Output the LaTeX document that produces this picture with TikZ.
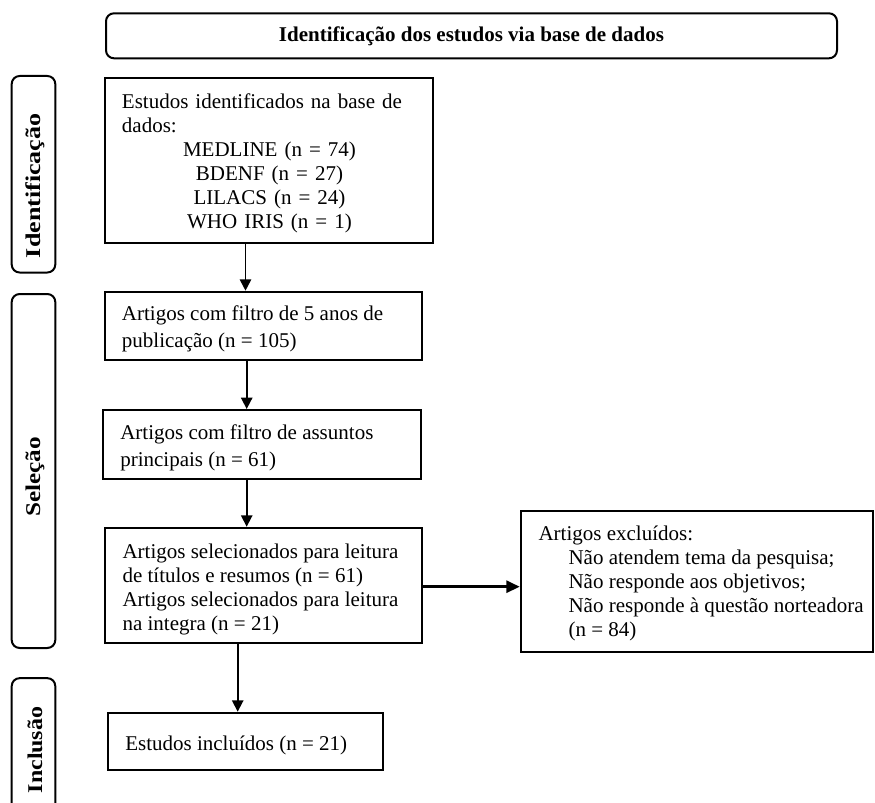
\documentclass[tikz,border=0pt]{standalone}
\usepackage{fontspec}
\setmainfont{Liberation Serif}
\usepackage{graphicx}
\usetikzlibrary{arrows.meta}
\begin{document}
\begin{tikzpicture}[x=0.75pt,y=-0.75pt,
  box/.style={draw, line width=1.5pt, inner sep=0pt, rectangle},
  rbox/.style={draw, line width=1.5pt, inner sep=0pt, rectangle, rounded corners=6pt},
  txt/.style={anchor=north west, inner sep=0pt, align=left, font=\fontsize{15.75}{18}\selectfont},
  sidetxt/.style={rotate=90, inner sep=0pt, font=\fontsize{15.75}{18}\selectfont\bfseries},
  arr/.style={line width=1.25pt, -{Triangle[length=8.5pt,width=8.5pt]}},
  harr/.style={line width=2pt, -{Triangle[length=10pt,width=9pt]}}]
\useasboundingbox (0,0) rectangle (875,803);
\clip (0,0) rectangle (875,803);

% title
\node[rbox, minimum width=548.25pt, minimum height=33.75pt,
      font=\fontsize{15.75}{18}\selectfont\bfseries] (title) at (471.5,35.8)
      {Identificação dos estudos via base de dados};

% side boxes
\node[rbox, minimum width=32.7pt, minimum height=147.4pt] (s1) at (33.5,174.25) {};
\node[rbox, minimum width=32.7pt, minimum height=265.5pt] (s2) at (33.5,471) {};
\node[rbox, minimum width=32.7pt, minimum height=113.8pt] (s3) at (33.5,754) {};
\node[sidetxt] (s1t) at (35,185.8) {\scalebox{1.24}[1]{Identificação}};
\node[sidetxt] (s2t) at (35,476.7) {\scalebox{1.2}[1]{Seleção}};
\node[sidetxt] (s3t) at (35,750) {\scalebox{1.14}[1]{Inclusão}};

% boxes
\node[box, minimum width=246.2pt, minimum height=123.75pt] (b1) at (269.15,160) {};
\node[box, minimum width=237.5pt, minimum height=51.2pt] (b2) at (263.35,325.85) {};
\node[box, minimum width=238.5pt, minimum height=52pt] (b3) at (262,444.65) {};
\node[box, minimum width=237.5pt, minimum height=86.7pt] (b4) at (263.35,585.5) {};
\node[box, minimum width=264.2pt, minimum height=105.75pt] (b5) at (696.85,581.2) {};
\node[box, minimum width=206.25pt, minimum height=43pt] (b6) at (245.8,741.35) {};

% texts
\node[txt, text width=221.25pt] (t1) at (121.7,91.2)
 {\rule{0pt}{12.6pt}Estudos identificados na base de\\
  dados:\\
  \makebox[221.25pt]{MEDLINE (n = 74)}\\
  \makebox[221.25pt]{BDENF (n = 27)}\\
  \makebox[221.25pt]{LILACS (n = 24)}\\
  \makebox[221.25pt]{WHO IRIS (n = 1)}};
\node[txt, font=\fontsize{15.75}{20}\selectfont] (t2) at (121.7,303.9)
 {\rule{0pt}{12.6pt}Artigos com filtro de 5 anos de\\ publicação (n = 105)};
\node[txt, font=\fontsize{15.75}{20}\selectfont] (t3) at (120,422.7)
 {\rule{0pt}{12.6pt}Artigos com filtro de assuntos\\ principais (n = 61)};
\node[txt] (t4) at (122.3,541.2)
 {\rule{0pt}{12.6pt}Artigos selecionados para leitura\\
  de títulos e resumos (n = 61)\\
  Artigos selecionados para leitura\\
  na integra (n = 21)};
\node[txt] (t5) at (538.3,523.2)
 {\rule{0pt}{12.6pt}Artigos excluídos:\\
  \hspace*{22.5pt}Não atendem tema da pesquisa;\\
  \hspace*{22.5pt}Não responde aos objetivos;\\
  \hspace*{22.5pt}Não responde à questão norteadora\\
  \hspace*{22.5pt}(n = 84)};
\node[txt] (t6) at (125,733.2)
 {\rule{0pt}{12.6pt}Estudos incluídos (n = 21)};

% connectors
\coordinate (ax1) at (245.5,0);
\coordinate (ax2) at (246.7,0);
\coordinate (ax4) at (237.7,0);
\coordinate (ay5) at (0,586.7);
\draw[arr] (b1.south -| ax1) -- (b2.north -| ax1);
\draw[arr] (b2.south -| ax2) -- (b3.north -| ax2);
\draw[arr] (b3.south -| ax2) -- (b4.north -| ax2);
\draw[arr] (b4.south -| ax4) -- (b6.north -| ax4);
\draw[harr] (b4.east |- ay5) -- (b5.west |- ay5);
\end{tikzpicture}
\end{document}
